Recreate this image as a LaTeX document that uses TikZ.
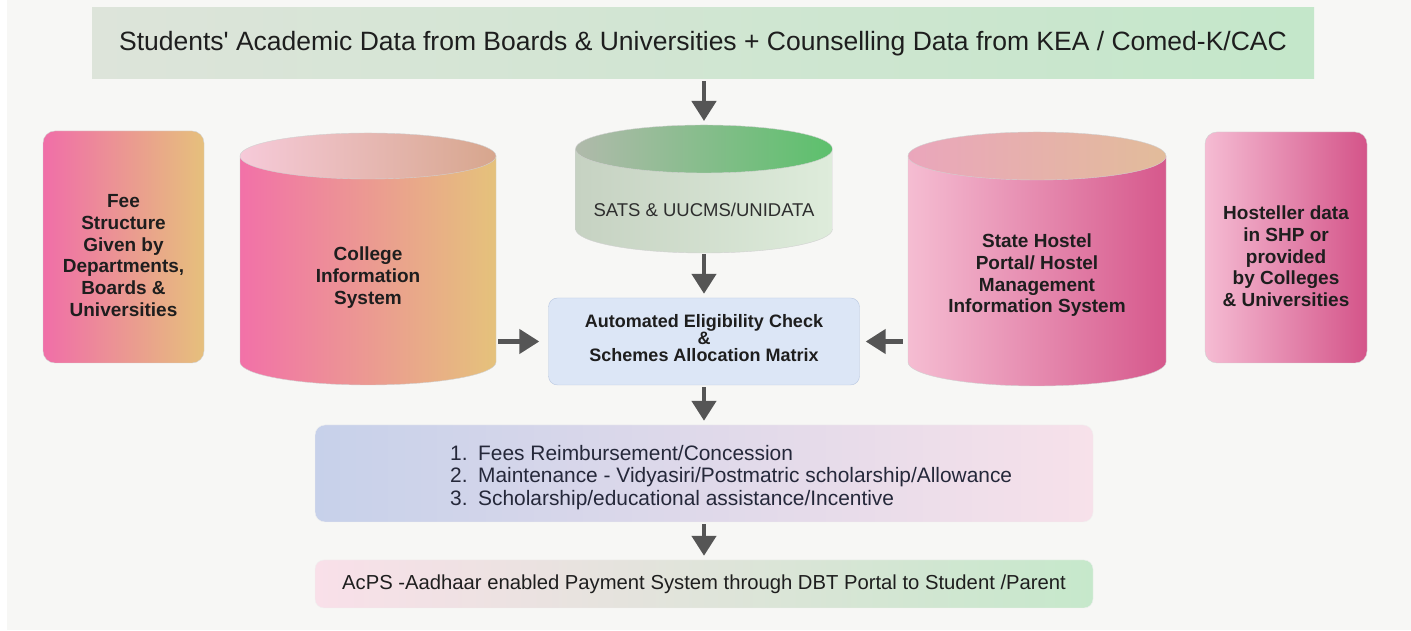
\documentclass[tikz,border=0pt]{standalone}
\usepackage{fontspec}
\setmainfont{Liberation Sans}
\usepackage{xcolor}
\usepackage{tikz}
\usetikzlibrary{positioning,calc,arrows.meta}

\definecolor{bgC}{HTML}{F7F7F5}
\definecolor{textC}{HTML}{1E1E1E}
\definecolor{listC}{HTML}{25283A}
\definecolor{arrowC}{HTML}{555555}
\definecolor{bannerL}{HTML}{DDE4DA}
\definecolor{bannerR}{HTML}{C4E7CA}
\definecolor{feeL}{HTML}{F06EA8}
\definecolor{feeR}{HTML}{E6C07C}
\definecolor{cisL}{HTML}{F271A8}
\definecolor{cisR}{HTML}{E5C27B}
\definecolor{cisTopL}{HTML}{F6CAD9}
\definecolor{cisTopR}{HTML}{D7A68D}
\definecolor{satsL}{HTML}{C6D2C2}
\definecolor{satsR}{HTML}{DEECDB}
\definecolor{satsTopL}{HTML}{B0BAAB}
\definecolor{satsTopR}{HTML}{5CC06C}
\definecolor{shpL}{HTML}{F5BDD2}
\definecolor{shpR}{HTML}{D6588C}
\definecolor{shpTopL}{HTML}{EAA6BC}
\definecolor{shpTopR}{HTML}{E2BC9A}
\definecolor{hostL}{HTML}{F5BCD3}
\definecolor{hostR}{HTML}{D45489}
\definecolor{ecmFill}{HTML}{DCE6F6}
\definecolor{ecmLine}{HTML}{B8C7E0}
\definecolor{listL}{HTML}{C7D1EA}
\definecolor{listR}{HTML}{F7E1EA}
\definecolor{payL}{HTML}{F9E0E9}
\definecolor{payR}{HTML}{C6E8CB}

% cylinder: x, top Y, bottom Y, rx, ry, body left, body right, top left, top right
\newcommand{\dbdrum}[9]{%
  \shade[left color=#6, right color=#7, draw=black!18] (#1-#4,#2) -- (#1-#4,#3)
    arc[start angle=180, end angle=360, x radius=#4, y radius=#5] -- (#1+#4,#2) -- cycle;
  \shade[left color=#8, right color=#9, draw=black!18] (#1,#2) ellipse[x radius=#4, y radius=#5];
}

\tikzset{
  boxtext/.style={text=textC, font=\bfseries\fontsize{19}{21.7}\selectfont, align=center},
  flow/.style={draw=arrowC, line width=4.5pt, -{Triangle[length=20pt,width=24pt]},
    shorten <=2pt, shorten >=4pt},
}

\begin{document}
\begin{tikzpicture}[x=1pt,y=1pt]
  \useasboundingbox (0,0) rectangle (1411,631);
  \fill[white] (0,0) rectangle (1411,631);
  \fill[bgC] (7,1) rectangle (1411,631);

  % top source banner
  \node[left color=bannerL, right color=bannerR, minimum width=1222pt,
    minimum height=71pt, text=textC, font=\fontsize{26.5}{30}\selectfont] (banner) at (703,587.5)
    {Students\textquotesingle{} Academic Data from Boards \& Universities + Counselling Data from KEA / Comed-K/CAC};

  % side boxes
  \node[left color=feeL, right color=feeR, draw=black!18, rounded corners=12pt,
    minimum width=161pt, minimum height=232pt] (fee) at (123.5,384) {};
  \node[boxtext] (feetext) at ([yshift=-8.5pt]fee.center)
    {Fee\\Structure\\Given by\\Departments,\\Boards \&\\Universities};
  \node[left color=hostL, right color=hostR, draw=black!18, rounded corners=12pt,
    minimum width=162pt, minimum height=231pt] (host) at (1286,383.5) {};
  \node[boxtext] (hosttext) at ([yshift=-9pt]host.center)
    {Hosteller data\\in SHP or\\provided\\by Colleges\\\& Universities};

  % databases
  \dbdrum{368}{475}{269}{128}{23}{cisL}{cisR}{cisTopL}{cisTopR}
  \dbdrum{704}{482}{402}{128.5}{24}{satsL}{satsR}{satsTopL}{satsTopR}
  \dbdrum{1037}{475}{269}{129}{24}{shpL}{shpR}{shpTopL}{shpTopR}

  \node[boxtext, minimum width=256pt] (cis) at (368,353.5) {College\\Information\\System};
  \node[text=black!82, font=\fontsize{18.5}{20}\selectfont, minimum width=257pt,
    minimum height=84pt] (sats) at (704,421) {SATS \& UUCMS/UNIDATA};
  \node[boxtext, minimum width=258pt] (shp) at (1037,355.5)
    {State Hostel\\Portal/ Hostel\\Management\\Information System};
  \coordinate (satstop) at (704,506);

  % processing
  \node[fill=ecmFill, draw=ecmLine, rounded corners=9pt, minimum width=311pt,
    minimum height=87pt] (ecm) at (704,289.5) {};
  \node[boxtext, font=\bfseries\fontsize{18}{17}\selectfont] (ecmtext)
    at ([yshift=3pt]ecm.center) {Automated Eligibility Check\\\&\\Schemes Allocation Matrix};

  \node[left color=listL, right color=listR, draw=black!6, rounded corners=10pt,
    minimum width=778pt, minimum height=97pt] (list) at (704,157.5) {};
  \node[anchor=west, align=left, text=listC, inner sep=0pt,
    font=\fontsize{20.9}{22.5}\selectfont] (listtext) at (450,153.5)
    {\makebox[28pt][l]{1.}Fees Reimbursement/Concession\\
     \makebox[28pt][l]{2.}Maintenance - Vidyasiri/Postmatric scholarship/Allowance\\
     \makebox[28pt][l]{3.}Scholarship/educational assistance/Incentive};

  \node[left color=payL, right color=payR, draw=black!6, rounded corners=9pt,
    minimum width=778pt, minimum height=48pt, text=textC,
    font=\fontsize{20.25}{24}\selectfont] (pay) at (704,47)
    {AcPS -Aadhaar enabled Payment System through DBT Portal to Student /Parent};

  % arrows
  \draw[flow] (banner.south -| satstop) -- (satstop);
  \draw[flow] (sats.south) -- (ecm.north);
  \draw[flow, shorten >=9pt] (cis.east |- ecm.west) -- (ecm.west);
  \draw[flow, shorten <=5pt, shorten >=6pt] (shp.west |- ecm.east) -- (ecm.east);
  \draw[flow] (ecm.south) -- (list.north);
  \draw[flow] (list.south) -- (pay.north);
\end{tikzpicture}
\end{document}
